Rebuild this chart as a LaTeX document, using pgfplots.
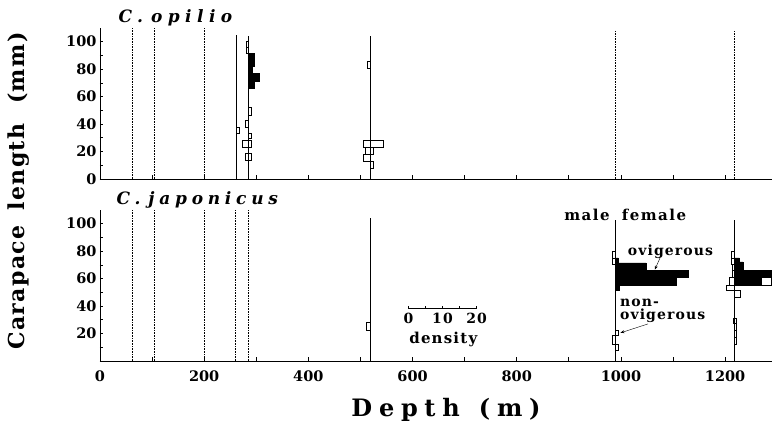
\documentclass[border=0pt]{standalone}
\usepackage{fontspec}
\setmainfont{DejaVu Serif}
\usepackage{pgfplots}
\pgfplotsset{compat=1.18}
\usetikzlibrary{arrows.meta}

% histogram box: x from #1 to #2 (m), y from #3 to #4 (mm)
\newcommand{\obox}[4]{\addplot[draw=black, fill=white, line width=0.5pt] coordinates {(#1,#3) (#2,#3) (#2,#4) (#1,#4)} -- cycle;}

\pgfplotsset{
  panel/.style={
    scale only axis, width=672pt, height=151pt,
    xmin=0, xmax=1290, ymin=0, ymax=110,
    axis x line=bottom, axis y line=left,
    axis line style={-, line width=0.9pt},
    tick align=inside, major tick length=3.5pt,
    tick style={black, line width=0.7pt},
    xtick={0,100,...,1200}, ytick={0,10,...,100},
    ticklabel style={font=\bfseries\fontsize{14.5}{14.5}\selectfont},
    xticklabel style={yshift=-6pt},
    clip mode=individual,
  },
  nostation/.style={densely dotted, line width=0.6pt},
  station/.style={line width=0.5pt},
  ovig/.style={draw=black, fill=black, line width=0.5pt},
}
\tikzset{
  note/.style={font=\bfseries\fontsize{14}{14}\selectfont\addfontfeature{LetterSpace=8}},
}

\begin{document}
\begin{tikzpicture}
\path[use as bounding box] (-100pt,-61pt) rectangle (672pt,361pt);

% ---------------- C. japonicus (bottom) ----------------
\begin{axis}[panel, name=bot, at={(0pt,0pt)}, anchor=south west,
  xticklabels={0,,200,,400,,600,,800,,1000,,1200},
  yticklabels={,,20,,40,,60,,80,,100}]
\addplot[nostation] coordinates {(62,0) (62,110)};
\addplot[nostation] coordinates {(105,0) (105,110)};
\addplot[nostation] coordinates {(200,0) (200,110)};
\addplot[nostation] coordinates {(260,0) (260,110)};
\addplot[nostation] coordinates {(285,0) (285,110)};
\addplot[station] coordinates {(518,0) (518,104)};
\addplot[station] coordinates {(990,0) (990,103)};
\addplot[station] coordinates {(1218,0) (1218,103)};

\obox{512}{518}{22.5}{28}

% 990 m
\obox{983.6}{990}{75}{80}
\obox{983.6}{990}{70.5}{75}
\addplot[ovig] coordinates {(990,51.6) (996.4,51.6) (996.4,55.3) (1107,55.3) (1107,60.9)
  (1130,60.9) (1130,66.2) (1048,66.2) (1048,71.5) (994.4,71.5) (994.4,75.1) (990,75.1)} -- cycle;
\obox{990}{994.4}{18.4}{22.5}
\obox{983.6}{990}{12.4}{18.4}
\obox{990}{994.4}{7.5}{12.4}

% 1218 m
\obox{1211.6}{1218}{75}{80}
\obox{1211.6}{1218}{70.5}{75}
\obox{1213}{1218}{66.2}{70.5}
\obox{1213}{1218}{60.9}{66.2}
\obox{1208.4}{1218}{55.3}{60.9}
\obox{1202}{1218}{51.6}{55.3}
\obox{1218}{1229}{46.3}{51.6}
\addplot[ovig] coordinates {(1218,55.3) (1270,55.3) (1270,60.9) (1300,60.9) (1300,66.2)
  (1234,66.2) (1234,72.2) (1227.6,72.2) (1227.6,75.1) (1218,75.1)} -- cycle;
\obox{1270}{1288}{55.3}{60.9}
\obox{1215}{1218}{27.4}{31.5}
\obox{1218}{1221}{27.4}{31.5}
\obox{1218}{1220.5}{22.5}{27.4}
\obox{1218}{1220.5}{17.5}{22.5}
\obox{1218}{1220.5}{12.4}{17.5}

% labels
\node[anchor=base east, font=\bfseries\fontsize{15}{15}\selectfont\addfontfeature{LetterSpace=10}] at (axis cs:985,102.5) {male};
\node[anchor=base west, font=\bfseries\fontsize{15}{15}\selectfont\addfontfeature{LetterSpace=10}] at (axis cs:995,102.5) {female};
\node[note, anchor=base west, inner sep=0pt] at (axis cs:1013,77) {ovigerous};
\draw[-{Stealth[length=4pt,width=3pt]}, line width=0.4pt] (axis cs:1075,75) -- (axis cs:1065,66.5);
\node[anchor=south west, inner sep=0pt, align=left,
  font=\bfseries\fontsize{14}{13.5}\selectfont\addfontfeature{LetterSpace=8}]
  at (axis cs:998,27.6) {non-\\ovigerous};
\draw[-{Stealth[length=4pt,width=3pt]}, line width=0.4pt] (axis cs:1052,27) -- (axis cs:999,20.5);

% density scale (0-20)
\draw[line width=0.7pt] (axis cs:592,38.5) -- (axis cs:723,38.5);
\draw[line width=0.7pt] (axis cs:592,38.5) -- ++(0,2.5pt);
\draw[line width=0.7pt] (axis cs:624.75,38.5) -- ++(0,2.5pt);
\draw[line width=0.7pt] (axis cs:657.5,38.5) -- ++(0,2.5pt);
\draw[line width=0.7pt] (axis cs:690.25,38.5) -- ++(0,2.5pt);
\draw[line width=0.7pt] (axis cs:723,38.5) -- ++(0,2.5pt);
\node[note, anchor=base] at (axis cs:592,27) {0};
\node[note, anchor=base] at (axis cs:657.5,27) {10};
\node[note, anchor=base] at (axis cs:723,27) {20};
\node[anchor=base, font=\bfseries\fontsize{15}{15}\selectfont\addfontfeature{LetterSpace=8}] at (axis cs:659,12.4) {density};
\end{axis}

% ---------------- C. opilio (top) ----------------
\begin{axis}[panel, name=top, at={(0pt,182pt)}, anchor=south west,
  xticklabels={},
  yticklabels={0,,20,,40,,60,,80,,100}]
\addplot[nostation] coordinates {(62,0) (62,110)};
\addplot[nostation] coordinates {(105,0) (105,110)};
\addplot[nostation] coordinates {(200,0) (200,110)};
\addplot[station] coordinates {(261,0) (261,105)};
\addplot[station] coordinates {(285,0) (285,104)};
\addplot[station] coordinates {(518,0) (518,104)};
\addplot[nostation] coordinates {(990,0) (990,108)};
\addplot[nostation] coordinates {(1218,0) (1218,108)};

\obox{261}{268}{33}{38}

% 285 m
\obox{280}{285}{91.5}{96}
\obox{280}{285}{96}{100.5}
\addplot[ovig] coordinates {(285,66.2) (296.5,66.2) (296.5,71.1) (306,71.1) (306,77.2)
  (291.5,77.2) (291.5,82) (296.5,82) (296.5,91.7) (285,91.7)} -- cycle;
\obox{285}{290}{46.7}{52.3}
\obox{279}{285}{37.7}{42.8}
\obox{285}{291}{29.7}{33.3}
\obox{274}{285}{23}{28.5}
\obox{285}{291}{23}{28.5}
\obox{279}{285}{13.4}{18.7}
\obox{285}{291}{13.4}{18.7}

% 518 m
\obox{513}{518}{81}{86}
\obox{505}{518}{23}{28}
\obox{518}{544}{23}{28}
\obox{510}{518}{18}{23}
\obox{518}{524}{18}{23}
\obox{505}{518}{13}{18}
\obox{518}{524}{8}{13}
\end{axis}

% titles and axis labels
\node[anchor=base west, font=\bfseries\itshape\fontsize{17}{17}\selectfont\addfontfeature{LetterSpace=32}]
  at ([xshift=15pt,yshift=5pt]top.north west) {C.\hspace{8pt}opilio};
\node[anchor=base west, font=\bfseries\itshape\fontsize{17}{17}\selectfont\addfontfeature{LetterSpace=28}]
  at ([xshift=13pt,yshift=5pt]bot.north west) {C.\hspace{8pt}japonicus};
\node[anchor=base, rotate=90, font=\bfseries\fontsize{22}{22}\selectfont\addfontfeature{LetterSpace=6}]
  at (-75pt,170pt) {Carapace\hspace{0.7em}length\hspace{0.9em}(mm)};
\node[anchor=base, font=\bfseries\fontsize{24}{24}\selectfont\addfontfeature{LetterSpace=28}]
  at (346pt,-56pt) {Depth\hspace{0.8em}(m)};
\end{tikzpicture}
\end{document}
